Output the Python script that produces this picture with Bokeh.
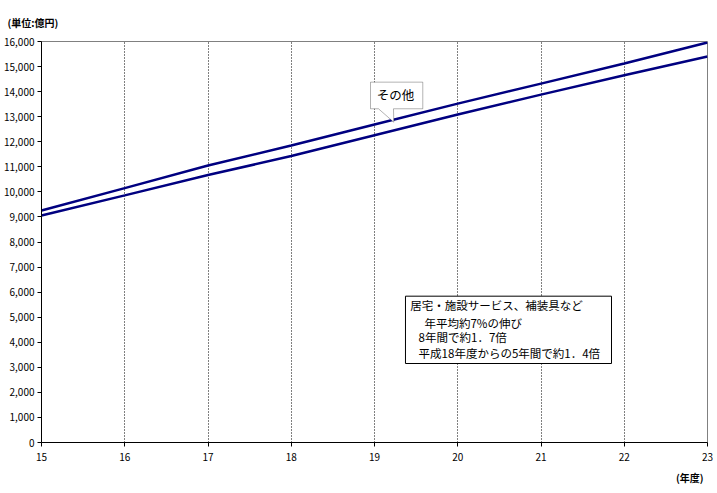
from bokeh.plotting import figure
from bokeh.models import (Label, BoxAnnotation, PolyAnnotation, NumeralTickFormatter,
                          FixedTicker, Range1d, Title)
from bokeh.embed import file_html
from bokeh.resources import INLINE

years = [15, 16, 17, 18, 19, 20, 21, 22, 23]
upper = [9260, 10150, 11050, 11850, 12690, 13520, 14320, 15120, 15960]
lower = [9060, 9860, 10670, 11430, 12260, 13090, 13880, 14650, 15400]
y_ticks = list(range(0, 16001, 1000))

unit_label = "(単位:億円)"
x_label = "(年度)"
callout_text = "その他"
note_lines = ["居宅・施設サービス、補装具など",
              "年平均約7%の伸び",
              "8年間で約1．7倍",
              "平成18年度からの5年間で約1．4倍"]

JP = "Noto Sans CJK JP"

p = figure(frame_width=666, frame_height=401,
           x_range=Range1d(15, 23), y_range=Range1d(0, 16000),
           output_backend="svg", toolbar_location=None,
           min_border_left=34, min_border_top=0, min_border_bottom=43,
           min_border_right=6,
           background_fill_color="white", border_fill_color="white")

p.outline_line_color = "#808080"
p.ygrid.grid_line_color = None
p.xgrid.grid_line_color = "black"
p.xgrid.grid_line_dash = "1 2"
p.xgrid.grid_line_width = 1

for ax in (p.xaxis[0], p.yaxis[0]):
    ax.axis_line_color = "black"
    ax.major_tick_line_color = "black"
    ax.major_tick_out = 4
    ax.major_tick_in = 0
    ax.minor_tick_line_color = None
    ax.major_label_text_font = JP
    ax.major_label_text_font_size = "10px"
    ax.major_label_text_color = "black"

p.xaxis[0].ticker = FixedTicker(ticks=years)
p.xaxis[0].major_label_standoff = 6
p.yaxis[0].ticker = FixedTicker(ticks=y_ticks)
p.yaxis[0].formatter = NumeralTickFormatter(format="0,0")
p.yaxis[0].major_label_standoff = 3

p.line(years, upper, line_color="#000080", line_width=2.5)
p.line(years, lower, line_color="#000080", line_width=2.5)

# callout "その他"
callout = PolyAnnotation(
    xs=[18.952, 19.580, 19.580, 19.228, 19.232, 19.048, 18.952],
    ys=[14378, 14378, 13316, 13316, 12781, 13316, 13316],
    fill_color="white", fill_alpha=1.0, line_color="black", line_width=1)
p.add_layout(callout)
p.add_layout(Label(x=19.028, y=13875, text=callout_text, text_font=JP,
                   text_font_size="12.5px", text_baseline="middle",
                   text_align="left", text_color="black"))

# note box
box = BoxAnnotation(left=19.372, right=21.847, top=5838, bottom=3152,
                    fill_color="white", fill_alpha=1.0,
                    line_color="black", line_width=1, line_alpha=1.0)
p.add_layout(box)
note_x = [19.43, 19.60, 19.53, 19.53]
note_y = [5467, 4769, 4190, 3591]
for t, xx, yy in zip(note_lines, note_x, note_y):
    p.add_layout(Label(x=xx, y=yy, text=t, text_font=JP, text_font_size="11.5px",
                       text_baseline="middle", text_align="left",
                       text_color="black"))

# outer texts as titles (not clipped)
p.add_layout(Title(text=unit_label, align="left", offset=-34, standoff=24,
                   text_font=JP, text_font_size="10px", text_font_style="bold",
                   text_color="black"), "above")
p.add_layout(Title(text=x_label, align="right", offset=4, standoff=8,
                   text_font=JP, text_font_size="10px", text_font_style="bold",
                   text_color="black"), "below")

open("out.html", "w").write(file_html(p, INLINE))
